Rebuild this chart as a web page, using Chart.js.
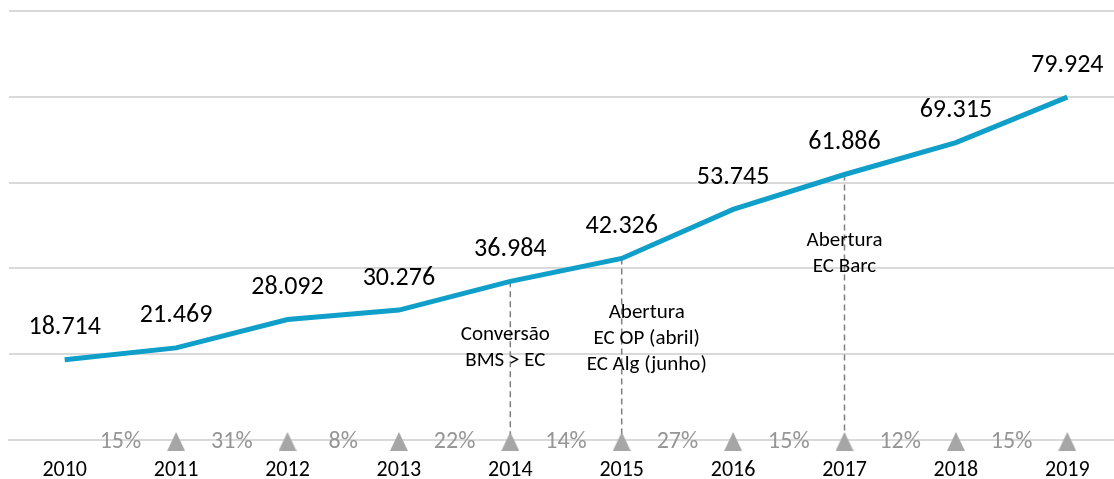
<!DOCTYPE html>
<html>
<head>
<meta charset="utf-8">
<script src="https://cdn.jsdelivr.net/npm/chart.js@4/dist/chart.umd.min.js"></script>
<style>
  html, body { margin: 0; padding: 0; background: #fff; overflow: hidden; }
  canvas { display: block; }
</style>
</head>
<body>
<canvas id="myChart" width="1124" height="500"></canvas>
<script>
// yearly values
var years = ['2010', '2011', '2012', '2013', '2014', '2015', '2016', '2017', '2018', '2019'];
var visitors = [18714, 21469, 28092, 30276, 36984, 42326, 53745, 61886, 69315, 79924];
// growth on previous year, shown between the years
var growth = ['15%', '31%', '8%', '22%', '14%', '27%', '15%', '12%', '15%'];
// growth markers sit on the axis from 2011 on
var markers = [null, 0, 0, 0, 0, 0, 0, 0, 0, 0];
// notes hung under some years
var noteYears = ['2014', '2015', '2017'];
var noteTexts = [['Conversão', 'BMS > EC'], ['Abertura', 'EC OP (abril)', 'EC Alg (junho)'], ['Abertura', 'EC Barc']];

var fontFamily = "Carlito, Calibri, 'Open Sans', sans-serif";

// 18714 -> "18.714"
function fmt(v) {
    return String(v).replace(/\B(?=(\d{3})+(?!\d))/g, '.');
}

// grey triangle marker, drawn a bit low in its box so it sits on the axis
var tri = document.createElement('canvas');
tri.width = 18;
tri.height = 22;
var tctx = tri.getContext('2d');
tctx.fillStyle = '#a6a6a6';
tctx.beginPath();
tctx.moveTo(9, 3);
tctx.lineTo(18, 22);
tctx.lineTo(0, 22);
tctx.closePath();
tctx.fill();

var overlay = {
    id: 'overlay',
    beforeDatasetsDraw: function(chart) {
        var ctx = chart.ctx;
        var meta = chart.getDatasetMeta(0);
        var bottom = chart.chartArea.bottom;
        ctx.save();
        ctx.strokeStyle = '#7f7f7f';
        ctx.lineWidth = 1.5;
        ctx.setLineDash([6, 4]);
        noteYears.forEach(function(y) {
            var pt = meta.data[years.indexOf(y)];
            ctx.beginPath();
            ctx.moveTo(pt.x, pt.y);
            ctx.lineTo(pt.x, bottom);
            ctx.stroke();
        });
        ctx.restore();
    },
    afterDatasetsDraw: function(chart) {
        var ctx = chart.ctx;
        var meta = chart.getDatasetMeta(0);
        var xs = chart.scales.x;
        var bottom = chart.chartArea.bottom;
        ctx.save();
        ctx.textAlign = 'center';
        ctx.textBaseline = 'middle';

        // value labels above the line
        ctx.fillStyle = '#000';
        ctx.font = '26px ' + fontFamily;
        meta.data.forEach(function(pt, i) {
            ctx.fillText(fmt(visitors[i]), pt.x, pt.y - 32);
        });

        // growth between years
        ctx.fillStyle = '#969696';
        ctx.font = '24px ' + fontFamily;
        growth.forEach(function(g, i) {
            var mid = (xs.getPixelForValue(i) + xs.getPixelForValue(i + 1)) / 2;
            ctx.fillText(g, mid, bottom + 2);
        });

        // notes
        ctx.fillStyle = '#000';
        ctx.font = '21px ' + fontFamily;
        var noteTop = [335, 313, 241];
        var noteShift = [-5, 25, 0];
        noteYears.forEach(function(y, n) {
            var x = xs.getPixelForValue(years.indexOf(y)) + noteShift[n];
            noteTexts[n].forEach(function(line, k) {
                ctx.fillText(line, x, noteTop[n] + k * 26);
            });
        });
        ctx.restore();
    }
};

var ctx = document.getElementById('myChart');
var myChart = new Chart(ctx, {
    type: 'line',
    data: {
        labels: years,
        datasets: [{
            data: visitors,
            borderColor: '#0f9fc9',
            borderWidth: 5,
            pointRadius: 0,
            tension: 0,
            fill: false
        }, {
            data: markers,
            showLine: false,
            pointStyle: tri,
            pointRadius: 10,
            clip: false
        }]
    },
    options: {
        responsive: false,
        animation: false,
        layout: { autoPadding: false, padding: { left: 9, right: 1, top: 11, bottom: 0 } },
        plugins: {
            legend: { display: false },
            tooltip: { enabled: false }
        },
        scales: {
            x: {
                offset: true,
                grid: { display: false, drawTicks: false },
                border: { display: true, color: '#d9d9d9', width: 2 },
                ticks: {
                    color: '#000',
                    padding: 20,
                    font: { family: fontFamily, size: 22, lineHeight: 20 / 22 }
                }
            },
            y: {
                min: 0,
                max: 100000,
                ticks: { display: false, stepSize: 20000 },
                grid: { color: '#d9d9d9', lineWidth: 2, drawTicks: false },
                border: { display: false }
            }
        }
    },
    plugins: [overlay]
});
</script>
</body>
</html>
